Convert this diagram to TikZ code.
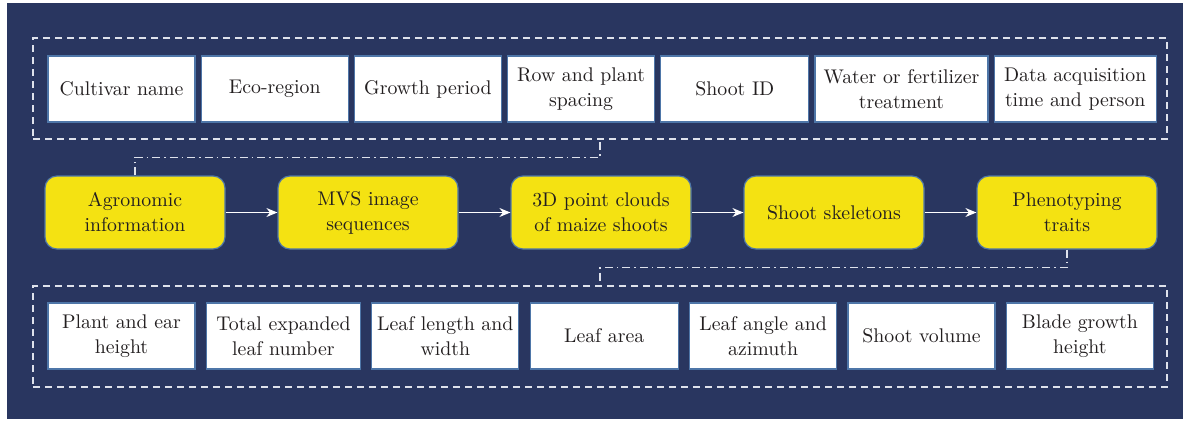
\documentclass[tikz,border=0pt]{standalone}
\usepackage{fontspec}
\setmainfont{lmroman10-regular.otf}
\usepackage{xcolor}
\definecolor{colorBack}{RGB}{41,54,96}
\definecolor{colorStage}{RGB}{244,226,18}
\definecolor{colorEdge}{RGB}{78,118,168}
\definecolor{colorLine}{RGB}{222,226,236}
\definecolor{colorText}{RGB}{35,31,32}
\usetikzlibrary{arrows.meta, positioning}
\tikzset{
  info/.style={draw=colorEdge, fill=white, line width=1.2pt, minimum width=147pt, minimum height=66pt, inner sep=0pt, align=center, text=colorText, font=\fontsize{19.8}{25}\selectfont},
  stage/.style={draw=colorEdge, fill=colorStage, rounded corners=12pt, line width=1.2pt, minimum width=180pt, minimum height=73pt, inner sep=0pt, align=center, text=colorText, font=\fontsize{19.8}{25}\selectfont},
  group/.style={draw=colorLine, line width=1.4pt, dash pattern=on 7pt off 5pt, minimum width=1134pt, minimum height=101pt, inner sep=0pt},
  link/.style={draw=colorLine, line width=1.4pt, dash pattern=on 8pt off 4pt on 1.5pt off 4pt},
}

\begin{document}
\begin{tikzpicture}[x=1pt, y=-1pt, >={Stealth[length=11pt, width=9pt]}]
\fill[white] (0,0) rectangle (1183,421);
\fill[colorBack] (7,3) rectangle (1183,419);
\useasboundingbox (0,0) rectangle (1183,421);

\node[group] (top) at (600,88.5) {};
\node[group] (bot) at (600,336.5) {};

\node[info] (t1) at (121.5,89) {Cultivar name};
\node[info, right=5pt of t1] (t2) {Eco-region};
\node[info, right=5pt of t2] (t3) {Growth period};
\node[info, right=5pt of t3] (t4) {Row and plant\\spacing};
\node[info, right=5pt of t4, minimum width=148pt] (t5) {Shoot ID};
\node[info, right=5pt of t5, minimum width=173pt] (t6) {Water or fertilizer\\treatment};
\node[info, right=5pt of t6, minimum width=162pt] (t7) {Data acquisition\\time and person};

\node[stage] (p1) at (135,212.5) {Agronomic\\information};
\node[stage, right=51.8pt of p1] (p2) {MVS image\\sequences};
\node[stage, right=51.8pt of p2] (p3) {3D point clouds\\of maize shoots};
\node[stage, right=51.8pt of p3] (p4) {Shoot skeletons};
\node[stage, right=51.8pt of p4] (p5) {Phenotyping\\traits};

\node[info] (b1) at (121.5,336) {Plant and ear\\height};
\node[info, right=10.2pt of b1, minimum width=154pt] (b2) {Total expanded\\leaf number};
\node[info, right=10.2pt of b2] (b3) {Leaf length and\\width};
\node[info, right=10.2pt of b3, minimum width=148pt] (b4) {Leaf area};
\node[info, right=10.2pt of b4] (b5) {Leaf angle and\\azimuth};
\node[info, right=10.2pt of b5] (b6) {Shoot volume};
\node[info, right=10.2pt of b6] (b7) {Blade growth\\height};

\draw[->, white, line width=1.2pt] (p1) -- (p2);
\draw[->, white, line width=1.2pt] (p2) -- (p3);
\draw[->, white, line width=1.2pt] (p3) -- (p4);
\draw[->, white, line width=1.2pt] (p4) -- (p5);

\draw[link] (p1.north) -- ++(0,-18) -| (top.south);
\draw[link] (p5.south) -- ++(0,18) -| (bot.north);
\end{tikzpicture}
\end{document}
